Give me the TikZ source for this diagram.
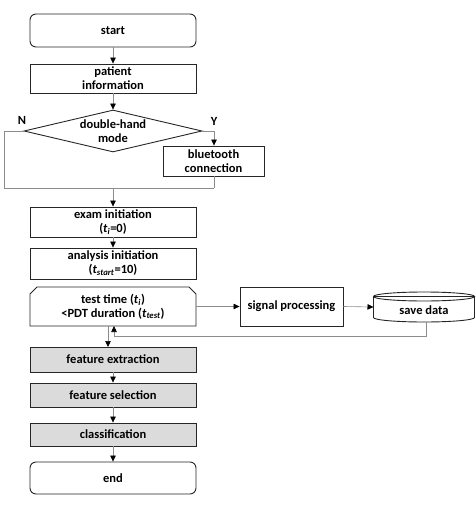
\documentclass[tikz,border=0pt]{standalone}
\usepackage{fontspec}
\setmainfont{Carlito}
\usetikzlibrary{shapes.geometric,arrows.meta}
\begin{document}
\begin{tikzpicture}[x=1pt,y=-1pt,
  font=\bfseries\fontsize{12.5}{14}\selectfont,
  box/.style={draw=black!85, line width=0.9pt, minimum width=166pt, inner sep=0pt, align=center},
  gbox/.style={box, fill=black!14},
  term/.style={box, rounded corners=6pt},
  conn/.style={draw=black!45, line width=0.6pt},
  arr/.style={conn, -{Triangle[length=6pt,width=5.5pt,black]}}
]
\useasboundingbox (0,0) rectangle (475,505);
\node[term, minimum height=33pt] (start) at (113,30.5) {start};
\node[box, minimum height=29pt] (pi) at (113,78.5) {patient\\information};
\node[draw=black!85, line width=0.9pt, diamond, shape aspect=4.2, minimum width=178pt, minimum height=42pt, inner sep=0pt, align=center] (dh) at (113,131) {double-hand\\mode};
\node (N) at (22,120) {N};
\node (Y) at (214,121) {Y};
\node[box, minimum width=101pt, minimum height=30pt] (bt) at (213.5,161) {bluetooth\\connection};
\node[box, minimum height=30pt] (exam) at (113,222) {exam initiation\\(\textit{t}\textsubscript{\textit{i}}=0)};
\node[box, minimum height=31pt] (ana) at (113,263.5) {analysis initiation\\(\textit{t}\textsubscript{\textit{start}}=10)};
\draw[draw=black!85, line width=0.9pt, fill=white] (30,326) -- (30,294) -- (37,287) -- (189,287) -- (196,294) -- (196,326) -- cycle;
\node[inner sep=0pt, minimum width=166pt, minimum height=39pt, align=center] (test) at (113,306.5) {test time (\textit{t}\textsubscript{\textit{i}})\\<PDT duration (\textit{t}\textsubscript{\textit{test}})};
\node[box, minimum width=103pt, minimum height=39pt] (sp) at (291.5,306.5) {signal processing};
% save data cylinder
\draw[draw=black!85, line width=0.9pt, fill=white] (373.5,296.5) -- (373.5,317.5) arc[start angle=180, end angle=360, x radius=50.5pt, y radius=4.5pt] -- (474.5,296.5) arc[start angle=0, end angle=360, x radius=50.5pt, y radius=4.5pt] -- cycle;
\node (save) at (424,310) {save data};
\coordinate (saveW) at (373.5,307);
\coordinate (saveS) at (426,322);
\node[gbox, minimum height=25pt] (fe) at (113,359.5) {feature extraction};
\node[gbox, minimum height=24pt] (fs) at (113,395) {feature selection};
\node[gbox, minimum height=23pt] (cl) at (113,434.5) {classification};
\node[term, minimum height=32pt] (end) at (113,478) {end};
% junctions
\coordinate (nl) at (4,131);
\coordinate (nb) at (4,188);
\coordinate (yr) at (214,131);
\coordinate (yb) at (214,188);
\coordinate (jm) at (113,188);
\coordinate (fb1) at (426,336);
\coordinate (fb2) at (114,336);
\coordinate (tu) at (114,326);
\coordinate (td) at (108,326);
\coordinate (fd) at (108,347);
% connectors
\draw[arr] (start) -- (pi);
\draw[arr] (pi) -- (dh);
\draw[conn] (dh.west) -- (nl) -- (nb) -- (yb);
\draw[arr] (dh.east) -- (yr) -- (bt.north -| yr);
\draw[conn] (bt.south -| yb) -- (yb);
\draw[arr] (jm) -- (exam);
\draw[arr] (exam) -- (ana);
\draw[arr] (test.east) -- (sp.west);
\draw[arr] (sp.east) -- (saveW);
\draw[arr] (saveS) -- (fb1) -- (fb2) -- (tu);
\draw[arr] (td) -- (fd);
\draw[arr] (fe) -- (fs);
\draw[arr] (fs) -- (cl);
\draw[arr] (cl) -- (end);
\end{tikzpicture}
\end{document}
